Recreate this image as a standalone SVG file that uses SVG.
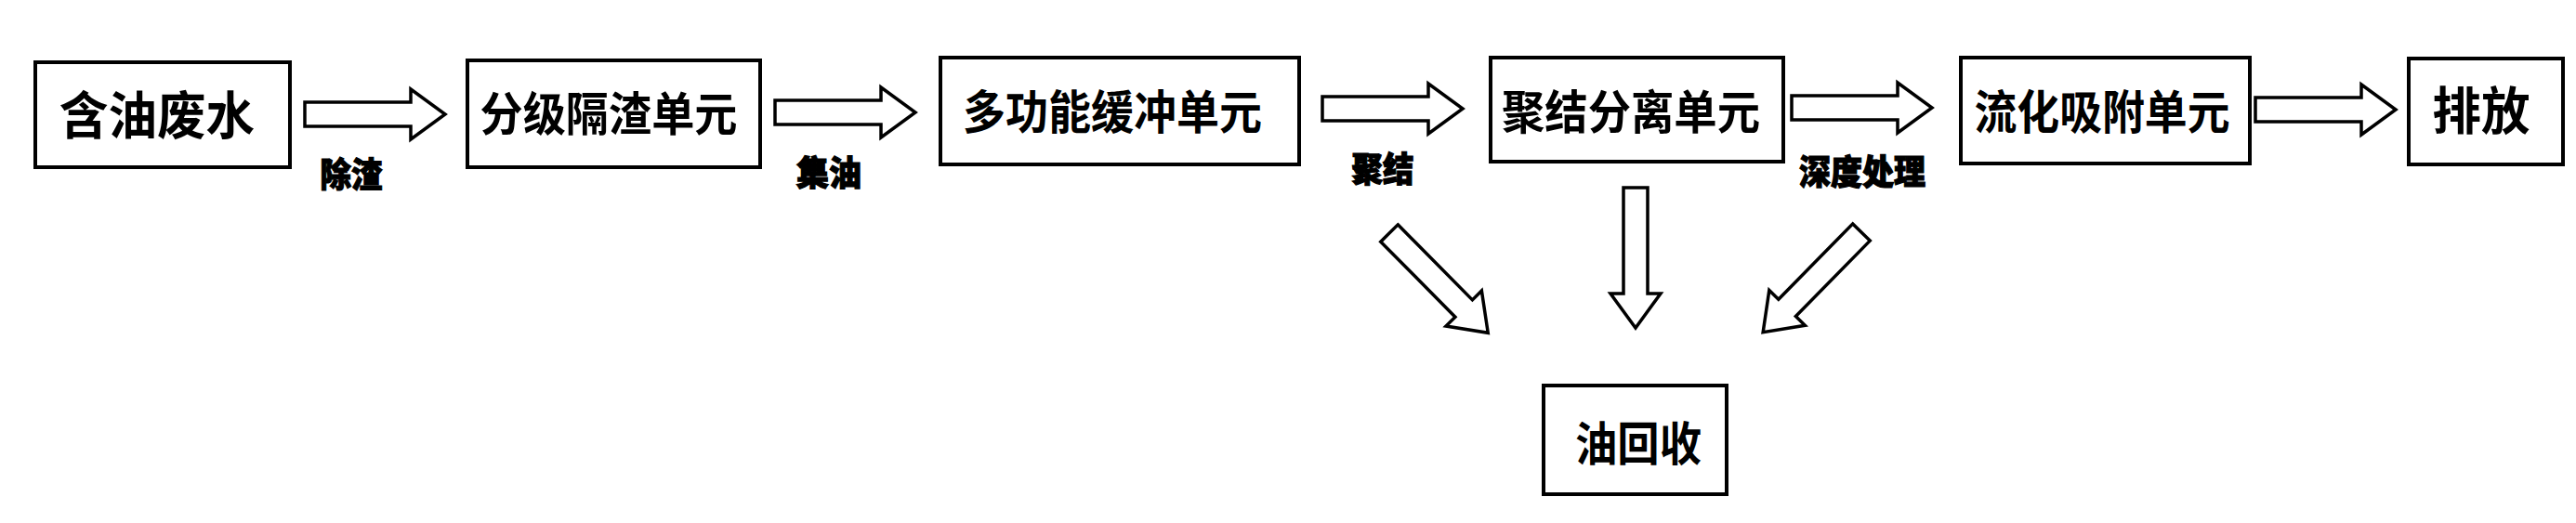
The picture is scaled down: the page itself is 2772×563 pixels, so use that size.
<svg xmlns="http://www.w3.org/2000/svg" xmlns:xlink="http://www.w3.org/1999/xlink" width="2772" height="563" viewBox="0 0 2772 563">
<style>
.box{fill:#fff;stroke:#000;stroke-width:4}
.arr{fill:#fff;stroke:#000;stroke-width:3.5;stroke-linejoin:miter}
.t{font-family:"Noto Sans CJK SC","Noto Sans CJK JP",sans-serif;font-weight:bold;fill:#000;text-anchor:middle;dominant-baseline:central}
.n{font-size:50px}
.big{font-size:55px}
.lab{font-size:37px;font-weight:900;stroke:#000;stroke-width:1.2}
</style>
<defs>
<polygon id="blk" class="arr" points="0,-13 114,-13 114,-27 151,0 114,27 114,13 0,13"/>
</defs>
<rect width="2772" height="563" fill="#fff"/>
<g id="connectors">
<use xlink:href="#blk" transform="translate(328,123)"/>
<use xlink:href="#blk" transform="translate(834,121)"/>
<use xlink:href="#blk" transform="translate(1423,117)"/>
<use xlink:href="#blk" transform="translate(1928,116)"/>
<use xlink:href="#blk" transform="translate(2427,118)"/>
<use xlink:href="#blk" transform="translate(1760,202) rotate(90)"/>
<use xlink:href="#blk" transform="translate(1495,251) rotate(45.3)"/>
<use xlink:href="#blk" transform="translate(2003,250) rotate(134.5)"/>
<text class="t lab" x="378" y="186" textLength="67" lengthAdjust="spacingAndGlyphs">除渣</text>
<text class="t lab" x="892" y="184" textLength="70" lengthAdjust="spacingAndGlyphs">集油</text>
<text class="t lab" x="1488" y="180" textLength="67" lengthAdjust="spacingAndGlyphs">聚结</text>
<text class="t lab" x="2004" y="183" textLength="136" lengthAdjust="spacingAndGlyphs">深度处理</text>
</g>
<g id="n1"><rect class="box" x="38" y="67" width="274" height="113"/><text class="t big" x="169" y="120" textLength="210" lengthAdjust="spacingAndGlyphs">含油废水</text></g>
<g id="n2"><rect class="box" x="503" y="65" width="315" height="115"/><text class="t n" x="655" y="119" textLength="277" lengthAdjust="spacingAndGlyphs">分级隔渣单元</text></g>
<g id="n3"><rect class="box" x="1012" y="62" width="386" height="115"/><text class="t n" x="1197" y="117" textLength="322" lengthAdjust="spacingAndGlyphs">多功能缓冲单元</text></g>
<g id="n4"><rect class="box" x="1604" y="62" width="315" height="112"/><text class="t n" x="1755" y="117" textLength="278" lengthAdjust="spacingAndGlyphs">聚结分离单元</text></g>
<g id="n5"><rect class="box" x="2110" y="62" width="311" height="114"/><text class="t n" x="2262" y="117" textLength="275" lengthAdjust="spacingAndGlyphs">流化吸附单元</text></g>
<g id="n6"><rect class="box" x="2592" y="63" width="166" height="114"/><text class="t big" x="2670" y="115" textLength="105" lengthAdjust="spacingAndGlyphs">排放</text></g>
<g id="n7"><rect class="box" x="1661" y="415" width="197" height="117"/><text class="t n" x="1763" y="474" textLength="136" lengthAdjust="spacingAndGlyphs">油回收</text></g>
</svg>
